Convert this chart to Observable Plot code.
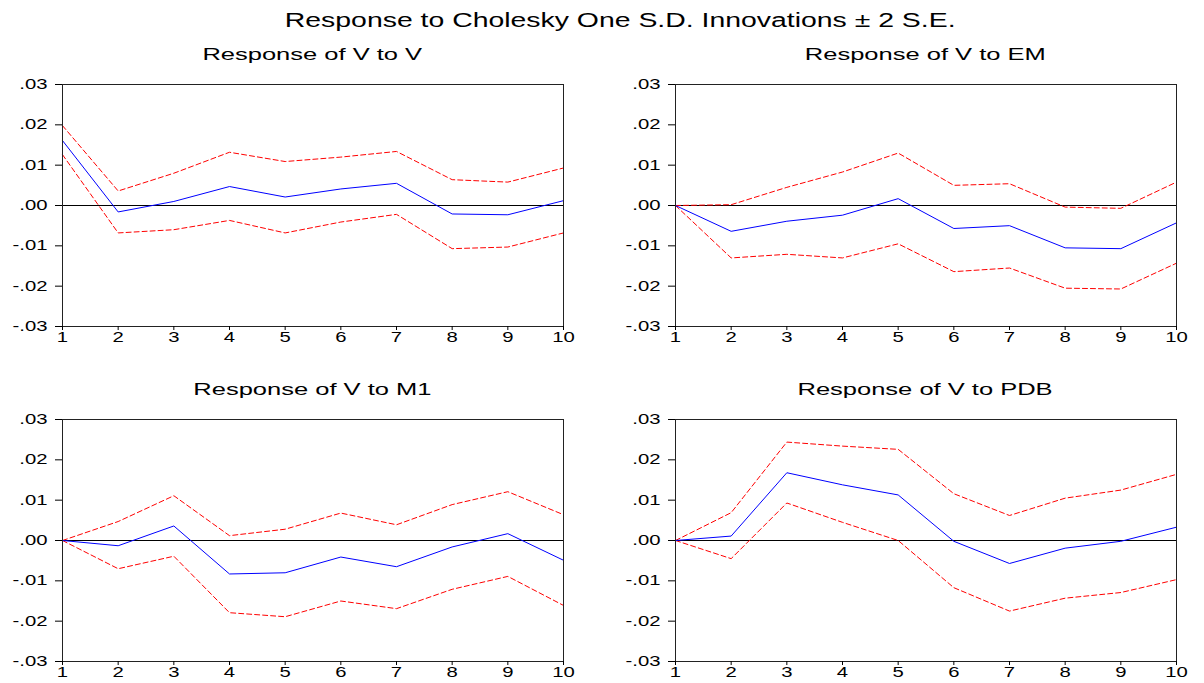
<!DOCTYPE html>
<html><head><meta charset="utf-8">
<script src="https://cdn.jsdelivr.net/npm/d3@7"></script>
<script src="https://cdn.jsdelivr.net/npm/@observablehq/plot@0.6"></script>
<style>
body{margin:0;background:#fff;overflow:hidden}
#wrap{position:relative;width:1204px;height:683px;font-family:"Liberation Sans",Arial,sans-serif;color:#000}
.t{position:absolute;text-align:center;white-space:nowrap}
.t span{display:inline-block;transform-origin:center}
.panel{position:absolute}
</style></head><body><div id="wrap"></div><script>
const periods = [1,2,3,4,5,6,7,8,9,10];
const yTicks = [-0.03,-0.02,-0.01,0,0.01,0.02,0.03];
const yTickLabels = ["-.03","-.02","-.01",".00",".01",".02",".03"];
const mainTitle = "Response to Cholesky One S.D. Innovations \u00b1 2 S.E.";
const panelTitles = ["Response of V to V","Response of V to EM","Response of V to M1","Response of V to PDB"];

const vToV_resp  = [0.0161,-0.0016,0.0010,0.0047,0.0021,0.0041,0.0055,-0.0021,-0.0023,0.0012];
const vToV_upper = [0.0198,0.0036,0.0080,0.0132,0.0109,0.0120,0.0134,0.0064,0.0058,0.0093];
const vToV_lower = [0.0126,-0.0068,-0.0060,-0.0037,-0.0068,-0.0041,-0.0022,-0.0107,-0.0103,-0.0068];

const vToEM_resp  = [0,-0.0064,-0.0039,-0.0024,0.0017,-0.0057,-0.0050,-0.0105,-0.0107,-0.0043];
const vToEM_upper = [0,0.0002,0.0045,0.0083,0.0130,0.0050,0.0054,-0.0004,-0.0007,0.0058];
const vToEM_lower = [0,-0.0130,-0.0121,-0.0130,-0.0095,-0.0164,-0.0155,-0.0205,-0.0207,-0.0143];

const vToM1_resp  = [0,-0.0013,0.0036,-0.0083,-0.0080,-0.0041,-0.0065,-0.0016,0.0017,-0.0049];
const vToM1_upper = [0,0.0047,0.0111,0.0012,0.0028,0.0068,0.0039,0.0089,0.0121,0.0064];
const vToM1_lower = [0,-0.0070,-0.0039,-0.0179,-0.0189,-0.0150,-0.0169,-0.0121,-0.0089,-0.0161];

const vToPDB_resp  = [0,0.0011,0.0168,0.0138,0.0113,-0.0002,-0.0057,-0.0019,-0.0002,0.0033];
const vToPDB_upper = [0,0.0069,0.0244,0.0234,0.0226,0.0116,0.0062,0.0105,0.0125,0.0164];
const vToPDB_lower = [0,-0.0045,0.0093,0.0045,0.0000,-0.0117,-0.0175,-0.0143,-0.0129,-0.0097];

const panels = [
  {title: panelTitles[0], resp: vToV_resp, upper: vToV_upper, lower: vToV_lower, left: 0, top: 70, tTop: 45.5},
  {title: panelTitles[1], resp: vToEM_resp, upper: vToEM_upper, lower: vToEM_lower, left: 613, top: 70, tTop: 45.5},
  {title: panelTitles[2], resp: vToM1_resp, upper: vToM1_upper, lower: vToM1_lower, left: 0, top: 405, tTop: 380.5},
  {title: panelTitles[3], resp: vToPDB_resp, upper: vToPDB_upper, lower: vToPDB_lower, left: 613, top: 405, tTop: 380.5}
];

const wrap = document.getElementById("wrap");
const labelMap = new Map(yTicks.map((v,i)=>[v, yTickLabels[i]]));

const mt = document.createElement("div");
mt.className = "t";
mt.style.cssText = "left:36px;width:1168px;top:10px;font-size:20px;line-height:20px;";
mt.innerHTML = `<span style="transform:scaleX(1.42)">${mainTitle}</span>`;
wrap.appendChild(mt);

for (const p of panels) {
  const rows = periods.map((d,i)=>({period:d, resp:p.resp[i], upper:p.upper[i], lower:p.lower[i]}));
  const svg = Plot.plot({
    width: 588, height: 280,
    marginLeft: 62, marginRight: 25, marginTop: 14, marginBottom: 24,
    style: {fontFamily: '"Liberation Sans", Arial, sans-serif', fontSize: "14px", color: "#000", background: "transparent", overflow: "visible"},
    x: {domain: [1,10]},
    y: {domain: [-0.03,0.03]},
    marks: [
      Plot.ruleY([0], {stroke: "#000", strokeWidth: 1}),
      Plot.lineY(rows, {x: "period", y: "upper", stroke: "#ff0000", strokeWidth: 1, strokeDasharray: "5,3"}),
      Plot.lineY(rows, {x: "period", y: "lower", stroke: "#ff0000", strokeWidth: 1, strokeDasharray: "5,3"}),
      Plot.lineY(rows, {x: "period", y: "resp", stroke: "#0000ff", strokeWidth: 1}),
      Plot.frame({stroke: "#222"}),
      Plot.axisY({ticks: yTicks, tickFormat: d => labelMap.get(d), tickSize: 7, tickPadding: 8, label: null}),
      Plot.axisX({ticks: periods, tickFormat: d => String(d), tickSize: 4, tickPadding: 2, label: null})
    ]
  });
  svg.querySelectorAll('g[aria-label$="tick label"] text').forEach(t => {
    const tr = t.getAttribute("transform") || "";
    const x = +t.getAttribute("x") || 0;
    t.setAttribute("transform", `${tr} translate(${x},0) scale(1.45,1) translate(${-x},0)`);
  });
  const holder = document.createElement("div");
  holder.className = "panel";
  holder.style.left = p.left + "px";
  holder.style.top = p.top + "px";
  holder.appendChild(svg);
  wrap.appendChild(holder);

  const st = document.createElement("div");
  st.className = "t";
  st.style.cssText = `left:${p.left+62}px;width:501px;top:${p.tTop}px;font-size:17px;line-height:17px;`;
  st.innerHTML = `<span style="transform:scaleX(1.5)">${p.title}</span>`;
  wrap.appendChild(st);
}
</script></body></html>
